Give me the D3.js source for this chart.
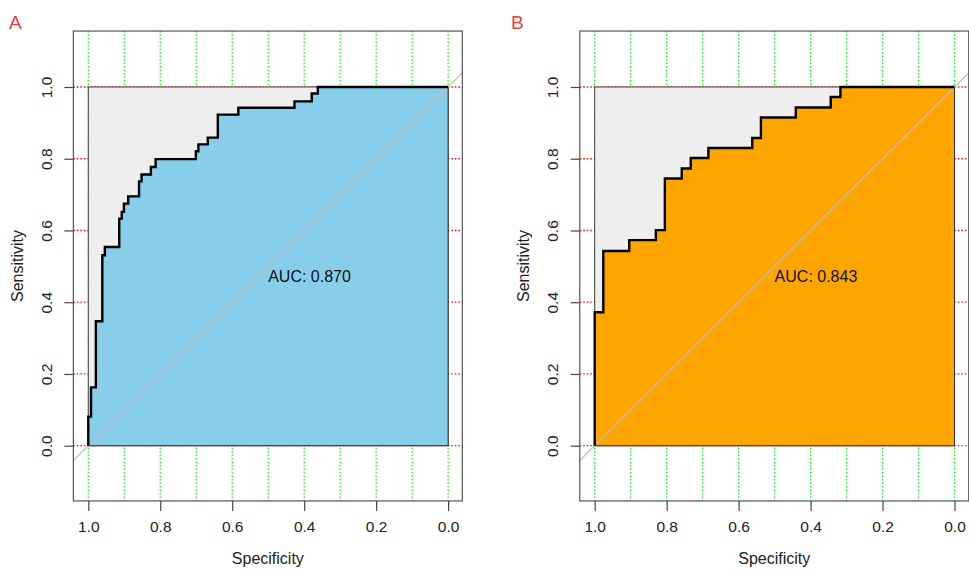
<!DOCTYPE html>
<html><head><meta charset="utf-8">
<script src="https://cdn.jsdelivr.net/npm/d3@7"></script>
<style>body{margin:0;background:#fff;} svg{display:block;font-family:"Liberation Sans",Arial,sans-serif;}</style>
</head><body>
<svg id="c" width="969" height="569"></svg>
<script>
// ---- data ----
const panelLetters = ["A", "B"];
const specA = [1, 1, 0.9925, 0.979, 0.961, 0.954, 0.914, 0.907, 0.901, 0.889, 0.859, 0.852, 0.826, 0.813, 0.701, 0.694, 0.668, 0.640, 0.583, 0.427, 0.379, 0.362, 0];
const sensA = [0, 0.081, 0.1625, 0.347, 0.531, 0.554, 0.633, 0.652, 0.675, 0.695, 0.737, 0.756, 0.777, 0.799, 0.821, 0.840, 0.859, 0.923, 0.942, 0.960, 0.982, 1.0, 1.0];
const specB = [1, 1, 0.976, 0.904, 0.830, 0.805, 0.758, 0.733, 0.684, 0.562, 0.538, 0.441, 0.344, 0.317, 0];
const sensB = [0, 0.372, 0.543, 0.573, 0.601, 0.745, 0.773, 0.802, 0.830, 0.858, 0.915, 0.943, 0.972, 1.0, 1.0];
const aucLabels = ["AUC: 0.870", "AUC: 0.843"];
const xTickVals = [1.0, 0.8, 0.6, 0.4, 0.2, 0.0];
const yTickVals = [0.0, 0.2, 0.4, 0.6, 0.8, 1.0];
const xGridVals = [0.0, 0.1, 0.2, 0.3, 0.4, 0.5, 0.6, 0.7, 0.8, 0.9, 1.0];
const yGridVals = [0.0, 0.2, 0.4, 0.6, 0.8, 1.0];
const xTitle = "Specificity", yTitle = "Sensitivity";

// ---- drawing ----
const svg = d3.select("#c");
const panels = [
  {letter: panelLetters[0], spec: specA, sens: sensA, auc: aucLabels[0], fill: "#87CEEB", x0: 88.3, letterX: 9},
  {letter: panelLetters[1], spec: specB, sens: sensB, auc: aucLabels[1], fill: "#FFA500", x0: 594.7, letterX: 511}
];
const W = 359.8, yTop = 87, yBot = 445.7;

panels.forEach((p, i) => {
  const g = svg.append("g");
  const x = d3.scaleLinear().domain([1, 0]).range([p.x0, p.x0 + W]);
  const y = d3.scaleLinear().domain([0, 1]).range([yBot, yTop]);
  const bx0 = x(1.0415), bx1 = x(-0.0395), by0 = y(1.156), by1 = y(-0.154);

  const clipId = "clip" + i;
  g.append("clipPath").attr("id", clipId).append("rect")
    .attr("x", bx0).attr("y", by0).attr("width", bx1 - bx0).attr("height", by1 - by0);

  // grid
  const grid = g.append("g").attr("clip-path", `url(#${clipId})`);
  grid.selectAll(".vg").data(xGridVals).join("line")
    .attr("x1", d => x(d)).attr("x2", d => x(d)).attr("y1", by0).attr("y2", by1)
    .attr("stroke", "#00FF00").attr("stroke-width", 1.2).attr("stroke-dasharray", "1.5 2");
  grid.selectAll(".hg").data(yGridVals).join("line")
    .attr("y1", d => y(d)).attr("y2", d => y(d)).attr("x1", bx0).attr("x2", bx1)
    .attr("stroke", "#FF0000").attr("stroke-width", 1.3).attr("stroke-dasharray", "1.5 2");

  // max auc polygon
  g.append("rect").attr("x", x(1)).attr("y", y(1)).attr("width", x(0) - x(1)).attr("height", y(0) - y(1))
    .attr("fill", "#EEEEEE").attr("stroke", "#444").attr("stroke-width", 1);

  const pts = p.spec.map((s, k) => [s, p.sens[k]]);
  const area = d3.area().curve(d3.curveStepAfter)
    .x(d => x(d[0])).y0(y(0)).y1(d => y(d[1]));
  g.append("path").datum(pts).attr("d", area)
    .attr("fill", p.fill).attr("stroke", "#333").attr("stroke-width", 1);

  // identity line
  g.append("g").attr("clip-path", `url(#${clipId})`).append("line")
    .attr("x1", x(1.1)).attr("y1", y(-0.1)).attr("x2", x(-0.1)).attr("y2", y(1.1))
    .attr("stroke", "#BEBEBE").attr("stroke-width", 1.3);

  // curve
  const line = d3.line().curve(d3.curveStepAfter).x(d => x(d[0])).y(d => y(d[1]));
  g.append("path").datum(pts).attr("d", line)
    .attr("fill", "none").attr("stroke", "#000").attr("stroke-width", 2.4).attr("stroke-linejoin", "miter");

  // AUC text
  g.append("text").attr("x", x(0.5)).attr("y", y(0.5)).attr("dy", "0.95em")
    .attr("font-size", 16).attr("fill", "#111").text(p.auc);

  // box
  g.append("rect").attr("x", bx0).attr("y", by0).attr("width", bx1 - bx0).attr("height", by1 - by0)
    .attr("fill", "none").attr("stroke", "#555").attr("stroke-width", 1.2);

  // axes
  const xAxis = d3.axisBottom(x).tickValues(xTickVals).tickSize(10).tickPadding(10).tickFormat(d3.format(".1f"));
  const xa = g.append("g").attr("transform", `translate(0,${by1})`).call(xAxis);
  xa.select(".domain").remove();
  xa.selectAll("line").attr("stroke", "#444").attr("stroke-width", 1.2);
  xa.selectAll("text").attr("font-size", 15.5).attr("fill", "#222").attr("font-family", "Liberation Sans, Arial, sans-serif");

  const yAxis = d3.axisLeft(y).tickValues(yTickVals).tickSize(9).tickFormat(d3.format(".1f"));
  const ya = g.append("g").attr("transform", `translate(${bx0},0)`).call(yAxis);
  ya.select(".domain").remove();
  ya.selectAll("line").attr("stroke", "#444").attr("stroke-width", 1.2);
  ya.selectAll("text").remove();
  ya.selectAll(".tick").append("text")
    .attr("transform", `translate(${-(bx0 - (p.x0 - 42))},0) rotate(-90)`)
    .attr("text-anchor", "middle").attr("dy", "0.35em")
    .attr("font-size", 15.5).attr("fill", "#222").attr("font-family", "Liberation Sans, Arial, sans-serif")
    .text(d => d3.format(".1f")(d));

  // titles
  g.append("text").attr("x", (bx0 + bx1) / 2).attr("y", 558).attr("dy", "0.35em")
    .attr("text-anchor", "middle").attr("font-size", 16).attr("fill", "#222").text(xTitle);
  g.append("text").attr("transform", `translate(${p.x0 - 71},${(by0 + by1) / 2}) rotate(-90)`)
    .attr("dy", "0.35em").attr("text-anchor", "middle").attr("font-size", 16).attr("fill", "#222").text(yTitle);

  // panel letter
  svg.append("text").attr("x", p.letterX).attr("y", 29).attr("font-size", 19)
    .attr("fill", "#EE3B3B").text(p.letter);
});
</script>
</body></html>
